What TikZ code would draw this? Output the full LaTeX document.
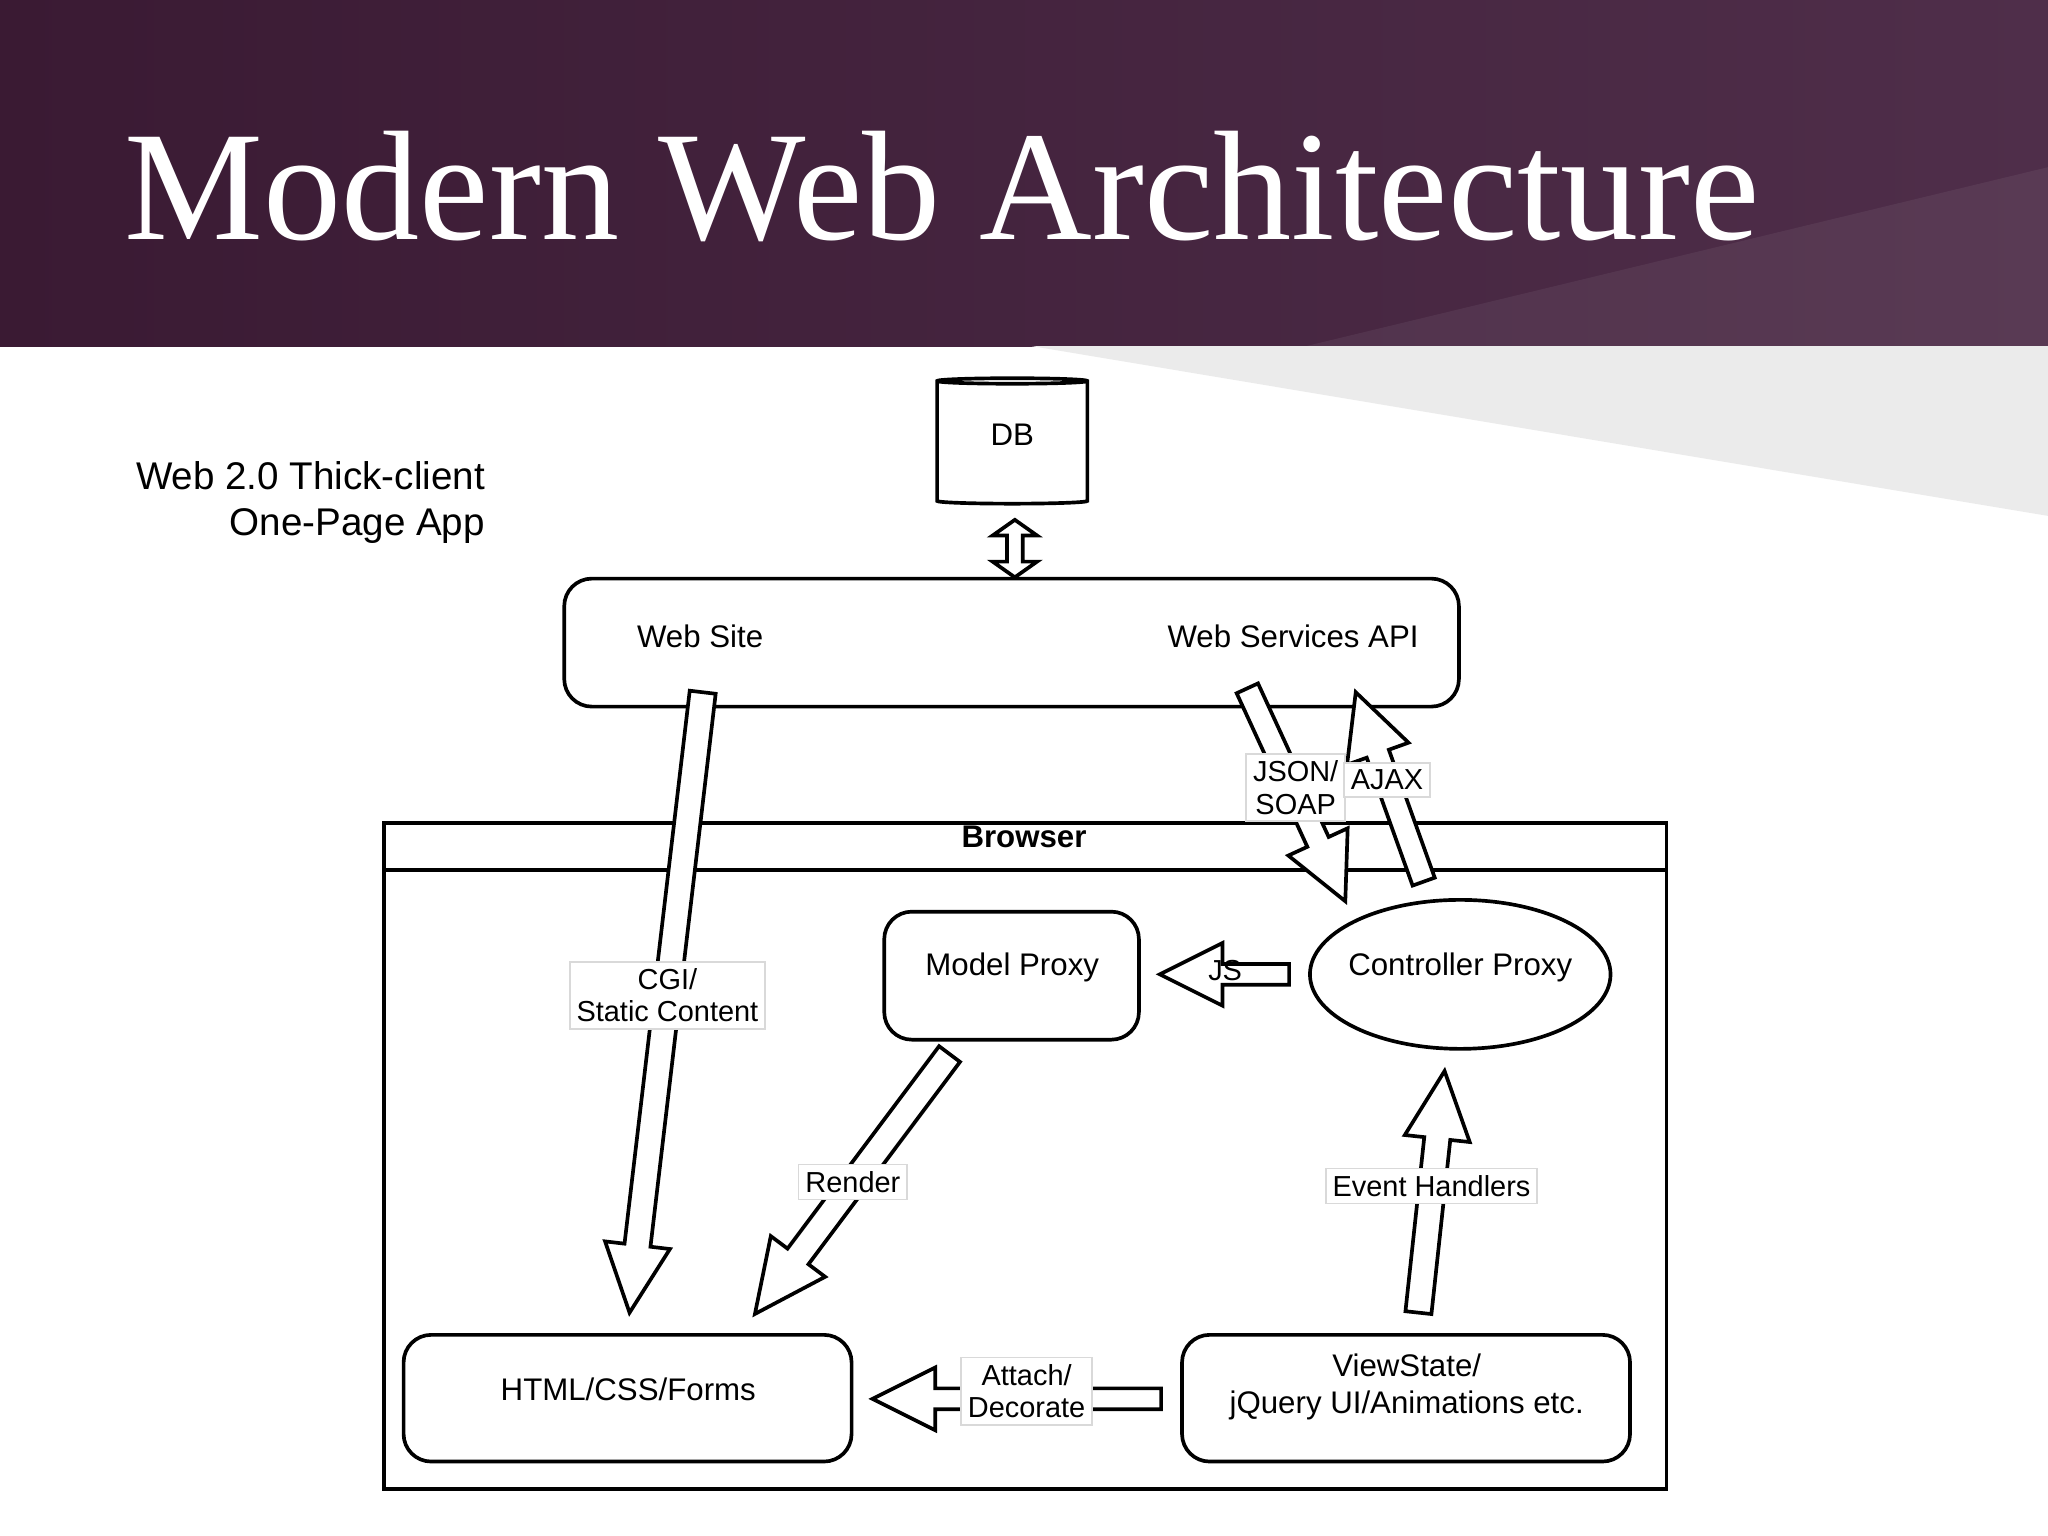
\documentclass[tikz,border=0pt]{standalone}
\usepackage{fontspec}
\setmainfont{Liberation Sans}
\newfontfamily\titlefont{Liberation Serif}
\usetikzlibrary{calc,shapes.geometric}
\definecolor{hdark}{HTML}{3A1A33}
\definecolor{hlight}{HTML}{4F2E4A}
\tikzset{
  box/.style={draw,thick,rounded corners=6pt,fill=white},
  lbl/.style={fill=white,draw=black!15,inner sep=1.5pt,font=\fontsize{6.3pt}{7pt}\selectfont,align=center},
  txt/.style={font=\fontsize{6.8pt}{8pt}\selectfont,align=center},
}
% block arrow: start, end, shaft half width, head half width, head length (in 0.01cm)
\newcommand\blockarrow[5]{%
  \coordinate (hb) at ($(#2)!#5*0.01cm!(#1)$);
  \draw[thick,fill=white] ($(#1)!#3*0.01cm!90:(#2)$) --
    ($(hb)!#3*0.01cm!-90:(#1)$) -- ($(hb)!#4*0.01cm!-90:(#1)$) -- (#2) --
    ($(hb)!#4*0.01cm!90:(#1)$) -- ($(hb)!#3*0.01cm!90:(#1)$) --
    ($(#1)!#3*0.01cm!-90:(#2)$) -- cycle;}
\begin{document}
\begin{tikzpicture}[x=0.01cm,y=-0.01cm]
\useasboundingbox (0,0) rectangle (1568,1176);
% header
\shade[left color=hdark,right color=hlight] (0,0) rectangle (1568,265);
\fill[white,opacity=0.06] (1000,265) -- (1568,128) -- (1568,265) -- cycle;
\fill[black!8] (790,265) -- (1568,265) -- (1568,395) -- cycle;
\node[anchor=base west,text=white,inner sep=0,font=\titlefont\fontsize{34pt}{40pt}\selectfont] (title) at (95,183) {Modern Web Architecture};
\node[anchor=north east,align=right,inner sep=0,font=\fontsize{8.4pt}{10pt}\selectfont] (sub) at (372,353) {Web 2.0 Thick-client\\One-Page App};
% DB
\node[draw,thick,cylinder,shape border rotate=90,aspect=0.18,
  minimum width=1.15cm,minimum height=0.96cm,fill=white] (db) at (775,340) {};
\node[txt] (dbt) at (775,333) {DB};
% server
\draw[box] (432,443) rectangle (1117,541);
\node[txt] (ws) at (536,487) {Web Site};
\node[txt] (wsa) at (990,487) {Web Services API};
% browser
\draw[thick] (294,630) rectangle (1276,1140);
\draw[thick] (294,666) -- (1276,666);
\node[txt,font=\bfseries\fontsize{6.8pt}{8pt}\selectfont] (br) at (784,641) {Browser};
\draw[box] (677,698) rectangle (872,796);
\node[txt] (mp) at (775,741) {Model Proxy};
\node[draw,thick,ellipse,minimum width=2.3cm,minimum height=1.14cm,fill=white] (cp) at (1118,746) {};
\node[txt] (cpt) at (1118,741) {Controller Proxy};
\draw[box] (309,1022) rectangle (652,1119);
\node[txt] (html) at (481,1064) {HTML/CSS/Forms};
\draw[box] (905,1022) rectangle (1248,1119);
\node[txt] (vs) at (1077,1062) {ViewState/\\jQuery UI/Animations etc.};
% DB double arrow
\draw[thick,fill=white] (771,410) -- (771,430) -- (760,430) -- (777,442) -- (794,430) -- (783,430) -- (783,410) -- (794,410) -- (777,398) -- (760,410) -- cycle;
% block arrows
\coordinate (c1) at (538,530); \coordinate (c2) at (482,1005);
\blockarrow{c1}{c2}{10}{25}{52}
\coordinate (j1) at (955,527); \coordinate (j2) at (1030,690);
\blockarrow{j1}{j2}{9}{25}{50}
\coordinate (a1) at (1090,675); \coordinate (a2) at (1038,530);
\blockarrow{a1}{a2}{9}{25}{50}
\coordinate (s1) at (987,746); \coordinate (s2) at (888,746);
\blockarrow{s1}{s2}{8}{24}{48}
\coordinate (r1) at (727,807); \coordinate (r2) at (578,1006);
\blockarrow{r1}{r2}{10}{26}{55}
\coordinate (e1) at (1086,1005); \coordinate (e2) at (1106,820);
\blockarrow{e1}{e2}{10}{25}{52}
\coordinate (t1) at (889,1071); \coordinate (t2) at (668,1071);
\blockarrow{t1}{t2}{8}{24}{48}
% labels
\node[lbl] (l1) at (511,762) {CGI/\\Static Content};
\node[lbl] (l2) at (992,603) {JSON/\\SOAP};
\node[lbl] (l3) at (1062,597) {AJAX};
\node[lbl,draw=none,fill=none] (l4) at (938,743) {JS};
\node[lbl] (l5) at (653,905) {Render};
\node[lbl] (l6) at (1096,908) {Event Handlers};
\node[lbl] (l7) at (786,1065) {Attach/\\Decorate};
\end{tikzpicture}
\end{document}
